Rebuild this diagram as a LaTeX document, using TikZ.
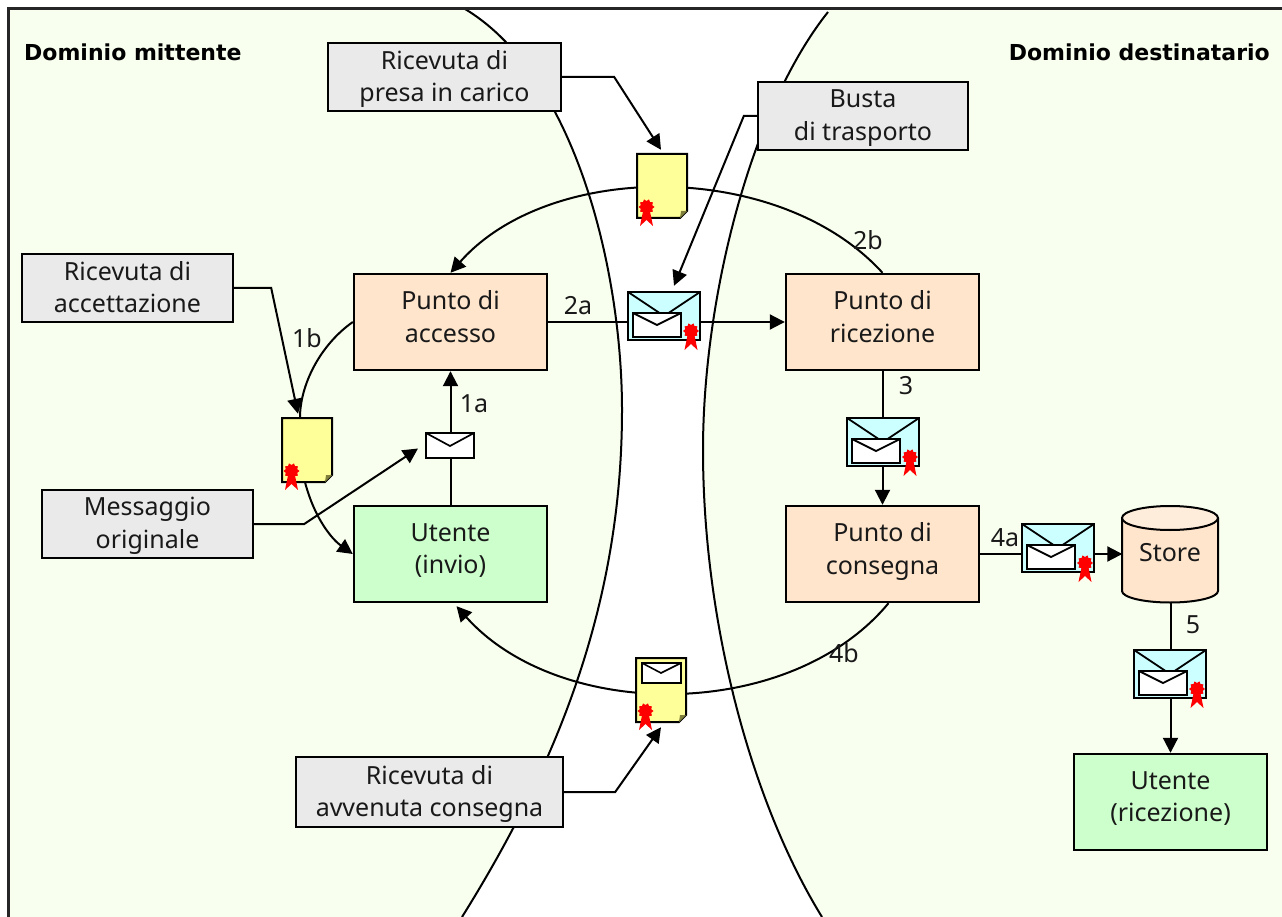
\documentclass[tikz,border=0pt]{standalone}
\usepackage{fontspec}
\setmainfont{Noto Sans}
\newfontfamily\benchfont{DejaVu Sans}
\usetikzlibrary{arrows.meta,calc,shadows}
\pgfdeclarelayer{back}\pgfdeclarelayer{mid}
\pgfsetlayers{back,mid,main}
\definecolor{ground}{HTML}{F9FFEF}
\definecolor{calloutgray}{HTML}{EAEAEA}
\definecolor{peach}{HTML}{FFE5CC}
\definecolor{mint}{HTML}{CCFFCC}
\definecolor{paper}{HTML}{FFFF99}
\definecolor{skyenv}{HTML}{CCFFFF}
\definecolor{foldc}{HTML}{80803C}
\tikzset{
 txt/.style={font=\fontsize{25}{32.5}\selectfont,align=center,text=black!90},
 boxbase/.style={draw=black,line width=2.4pt,inner sep=0pt,general shadow={fill=black!35,shadow xshift=1.4pt,shadow yshift=-1.4pt}},
 stage/.style={boxbase,txt,minimum width=193pt,minimum height=96pt,text depth=11pt},
 callout/.style={boxbase,txt,minimum height=68pt,text depth=2pt},
 wire/.style={draw=black,line width=2pt},
 arr/.style={wire,-{Triangle[length=15pt,width=15pt]}},
 lab/.style={font=\fontsize{25}{28}\selectfont,text=black!90,inner sep=0pt},
 bench/.style={font=\benchfont\bfseries\fontsize{22}{26}\selectfont,text=black,inner sep=0pt},
 envthin/.style={draw=black,line width=1.8pt},
}
\newcommand{\sealmark}[2]{%
 \fill[red,shift={(#1,#2)}] (-3,2) -- (-6.5,19) -- (0,13) -- (6.5,19) -- (3,2) -- cycle;
 \fill[red,shift={(#1,#2)}] plot[domain=0:342,samples=20] ({(7+1*cos(10*\x))*cos(\x)},{(7+1*cos(10*\x))*sin(\x)}) -- cycle;
}
\newcommand{\bigenv}[3]{%
 \node[draw=black,line width=2.4pt,fill=skyenv,minimum width=72pt,minimum height=48pt,inner sep=0pt] (#1) at (#2,#3) {};
 \draw[envthin,shift={(#2,#3)}] (-36,-24) -- (0,0) -- (36,-24);
 \draw[envthin,fill=white,shift={(#2,#3)}] (-31,-3) rectangle (17,21);
 \draw[envthin,shift={(#2,#3)}] (-31,-3) -- (-7,9) -- (17,-3);
 \sealmark{#2+27}{#3+15}
}
\newcommand{\sheet}[3]{%
 \node[inner sep=0pt,minimum width=50pt,minimum height=64pt] (#1) at (#2,#3) {};
 \draw[line width=2pt,fill=paper,shift={(#2,#3)}] (-25,-32) -- (25,-32) -- (25,25) -- (18,32) -- (-25,32) -- cycle;
 \fill[foldc,shift={(#2,#3)}] (25,25) -- (19,25) -- (18,32) -- cycle;
 \sealmark{#2-15.5}{#3+21}
}
\begin{document}
\begin{tikzpicture}[x=1pt,y=-1pt]
\useasboundingbox (0,0) rectangle (1282,917);
\begin{pgfonlayer}{back}
 \fill[white] (0,0) rectangle (1282,917);
 \fill[ground] (8,9) -- (465,9) .. controls (575,75) and (622,270) .. (622,410) .. controls (622,600) and (560,760) .. (462,917) -- (8,917) -- cycle;
 \fill[ground] (828,12) .. controls (750,110) and (703,300) .. (703,450) .. controls (703,620) and (750,800) .. (822,917) -- (1282,917) -- (1282,9) -- (828,9) -- cycle;
 \draw[line width=2pt] (465,9) .. controls (575,75) and (622,270) .. (622,410) .. controls (622,600) and (560,760) .. (462,917);
 \draw[line width=2pt] (828,12) .. controls (750,110) and (703,300) .. (703,450) .. controls (703,620) and (750,800) .. (822,917);
 \draw[line width=3pt,black!85] (8.5,917) -- (8.5,9) -- (1282,9);
\end{pgfonlayer}

% stages
\node[stage,fill=peach] (access) at (450.5,322) {Punto di\\accesso};
\node[stage,fill=peach] (ricez) at (882.5,322) {Punto di\\ricezione};
\node[stage,fill=mint] (utinv) at (450.5,554) {Utente\\(invio)};
\node[stage,fill=peach] (cons) at (882.5,554) {Punto di\\consegna};
\node[stage,fill=mint] (utric) at (1170.5,802) {Utente\\(ricezione)};

% store
\node[inner sep=0pt,minimum width=96pt,minimum height=96pt] (store) at (1170.5,554) {};
\draw[line width=2pt,fill=peach] (1122,518) -- (1122,591) arc[start angle=180,end angle=360,x radius=48,y radius=-11.5] -- (1218,518);
\draw[line width=2pt,fill=peach!70!white] (1170,518) ellipse[x radius=48,y radius=12];
\node[txt,inner sep=0pt] (storetext) at (1170,553) {Store};

% callouts
\node[callout,fill=calloutgray,minimum width=233pt] (presa) at (444.5,77) {Ricevuta di\\presa in carico};
\node[callout,fill=calloutgray,minimum width=210pt] (busta) at (863,116) {Busta\\di trasporto};
\node[callout,fill=calloutgray,minimum width=211pt] (accett) at (127.5,288) {Ricevuta di\\accettazione};
\node[callout,fill=calloutgray,minimum width=211pt] (msg) at (147.5,524) {Messaggio\\originale};
\node[callout,fill=calloutgray,minimum width=267pt,minimum height=70pt] (avv) at (429.5,792) {Ricevuta di\\avvenuta consegna};

% carriers
\sheet{doc1}{307}{450}
\sheet{doc2}{662}{186}
\sheet{doc3}{661}{690}
\draw[line width=2pt,fill=white] (642,663) rectangle (681,683);
\draw[line width=1.6pt] (642,663) -- (661,673) -- (681,663);
\bigenv{env2a}{664}{316}
\bigenv{env3}{883}{442}
\bigenv{env4a}{1058}{548}
\bigenv{env5}{1170}{674}
\node[draw=black,line width=2pt,fill=white,minimum width=48pt,minimum height=25pt,inner sep=0pt] (envsmall) at (450,445.5) {};
\draw[line width=1.7pt] (426,433) -- (450,446) -- (474,433);

% labels
\node[bench,anchor=west] (dmit) at (24,52) {Dominio mittente};
\node[bench,anchor=east] (ddest) at (1270,52) {Dominio destinatario};
\node[lab] (l2a) at (578,306) {2a};
\node[lab] (l1b) at (307,338) {1b};
\node[lab] (l1a) at (474,404) {1a};
\node[lab] (l2b) at (868,240) {2b};
\node[lab] (l3) at (906,386) {3};
\node[lab] (l4a) at (1005,538) {4a};
\node[lab] (l5) at (1193,625) {5};
\node[lab] (l4b) at (844,653) {4b};

\begin{pgfonlayer}{mid}
 \draw[arr] (access.east) -- (ricez.west);
 \draw[arr] (utinv.north) -- (access.south);
 \draw[arr] (ricez.south) -- (cons.north);
 \draw[arr] (cons.east) -- (store.west);
 \draw[arr] (store.south) -- (utric.north);
 \draw[wire] (access.west) .. controls (320,345) and (300,385) .. ($(doc1.north)+(-7,0)$);
 \draw[arr] ($(doc1.south)+(-2,0)$) .. controls (315,520) and (333,540) .. (utinv.west);
 \draw[arr] (ricez.north) .. controls (780,160) and (550,160) .. (access.north);
 \draw[arr] ($(cons.south)+(6,0)$) .. controls (790,722) and (560,722) .. ($(utinv.south)+(6,3)$);
 \draw[arr] (presa.east) -- ($(presa.east)+(52,0)$) -- ($(doc2.north)+(-1,-4)$);
 \draw[arr] (busta.west) -- ($(busta.west)+(-13,0)$) -- ($(env2a.north)+(10,-5)$);
 \draw[arr] (accett.east) -- ($(accett.east)+(37,0)$) -- ($(doc1.north)+(-9,-4)$);
 \draw[arr] (msg.east) -- ($(msg.east)+(50,0)$) -- ($(envsmall.west)+(-7,3)$);
 \draw[arr] (avv.east) -- ($(avv.east)+(51,0)$) -- ($(doc3.south)+(0,5)$);
\end{pgfonlayer}
\end{tikzpicture}
\end{document}
